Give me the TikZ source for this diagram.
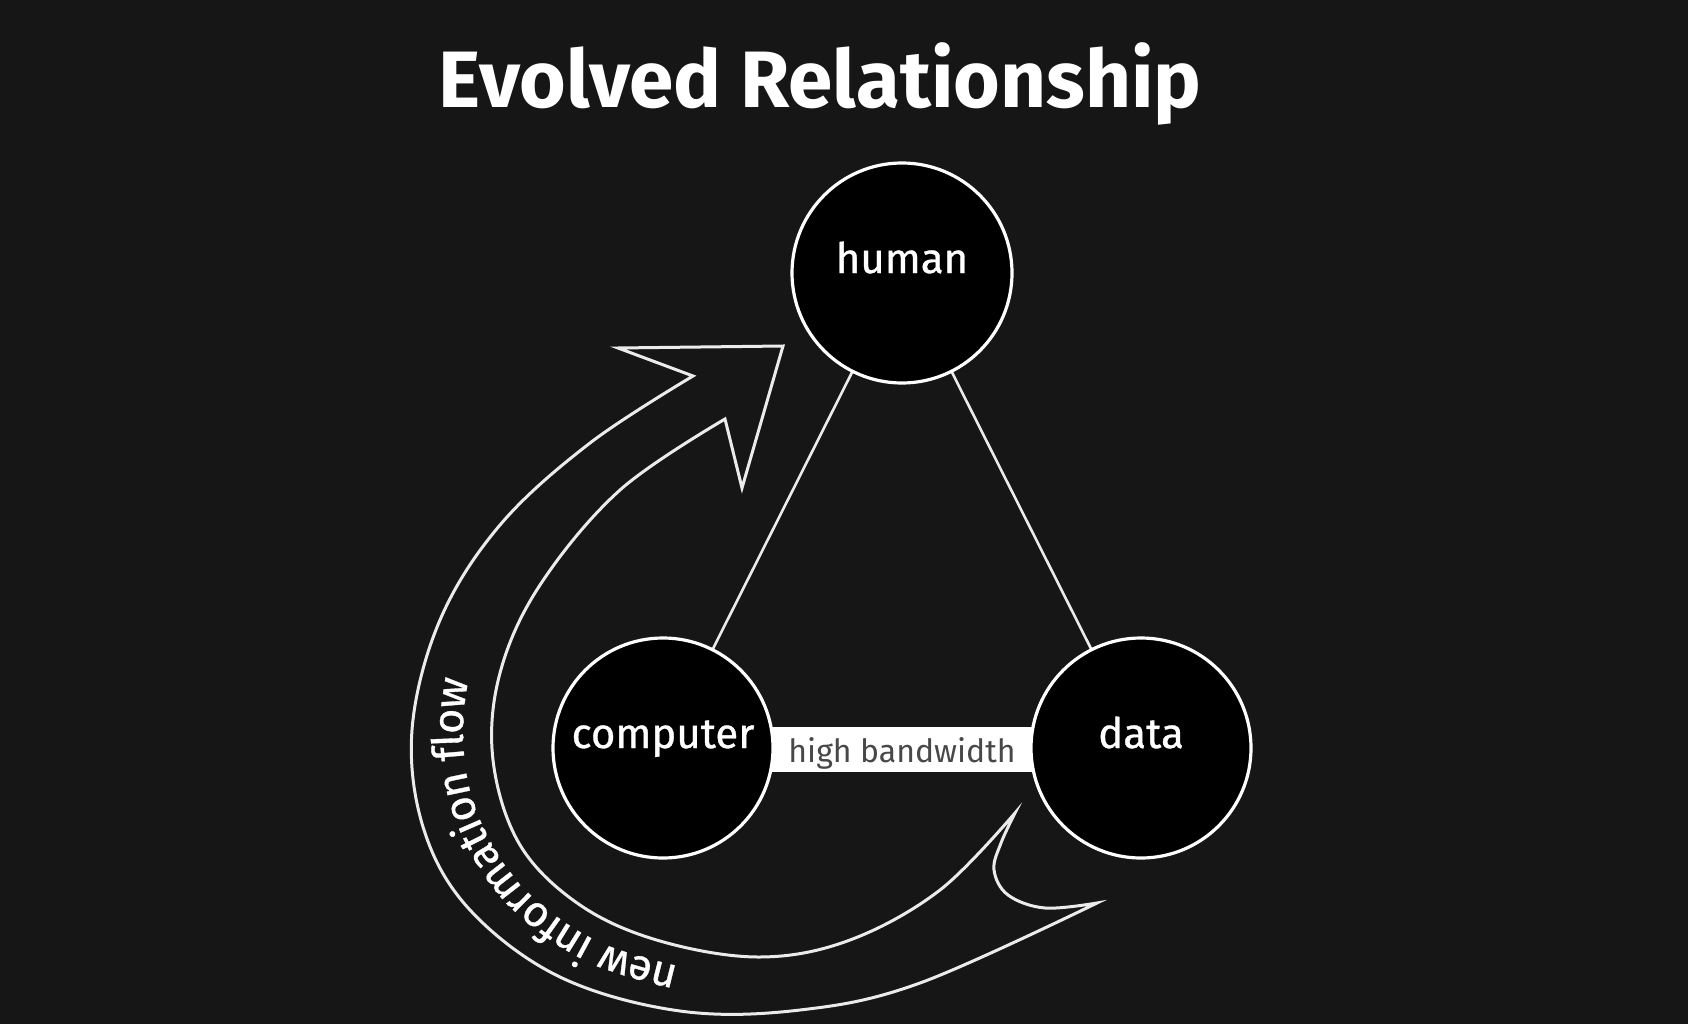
\documentclass[tikz,border=0pt]{standalone}
\usepackage{fontspec}
\setmainfont{Fira Sans}
\newfontfamily\labelfam[FakeBold=0.8]{Fira Sans}
\usetikzlibrary{calc,backgrounds,decorations.text}
\definecolor{bgcol}{RGB}{22,22,22}
\definecolor{linecol}{RGB}{235,235,235}
\definecolor{bandtext}{RGB}{72,72,72}
\newcommand\flowfont{\labelfam\fontsize{43}{45}\selectfont}
\begin{document}
\begin{tikzpicture}[x=1pt,y=-1pt,
  bubble/.style={circle, draw=white, line width=3.2pt, fill=black, minimum size=220pt, inner sep=0pt},
  bubbletext/.style={text=white, font=\labelfam\fontsize{42}{44}\selectfont, anchor=base, inner sep=0pt},
  link/.style={draw=linecol, line width=2.6pt},
  arrowline/.style={draw=linecol, line width=3pt, line join=miter, miter limit=20}]
\useasboundingbox (0,0) rectangle (1688,1024);
\fill[bgcol] (0,0) rectangle (1688,1024);
\node[text=white, font=\fontsize{80}{84}\selectfont\bfseries, anchor=base] (title) at (820,108) {Evolved Relationship};
% links
\coordinate (hc) at (902,273);
\coordinate (cc) at (663,748);
\coordinate (dc) at (1141,748);
\draw[link] (hc) -- (cc);
\draw[link] (hc) -- (dc);
\fill[white] ($(cc)+(0,-21)$) rectangle ($(dc)+(0,24)$);
\node[bubble] (human) at (hc) {};
\node[bubble] (computer) at (cc) {};
\node[bubble] (data) at (dc) {};
\node[bubbletext] (humanlabel) at (human.center) {human};
\node[bubbletext] (computerlabel) at (computer.center) {computer};
\node[bubbletext] (datalabel) at (data.center) {data};
\node[text=bandtext, font=\fontsize{32}{36}\selectfont, anchor=base, inner sep=0pt] (bandlabel) at (902,762) {high bandwidth};
% big arrow
\draw[arrowline] (1015,813)
  -- plot[smooth, tension=0.6] coordinates {(1015,813) (940,890) (850,940) (760,957) (660,941) (580,905) (520,845) (493,760) (500,673) (540,585) (620,490) (725,419)}
  -- (742,488) -- (783,346) -- (618,348) -- (693,376)
  -- plot[smooth, tension=0.6] coordinates {(693,376) (590,443) (500,525) (440,620) (412,730) (424,830) (470,910) (560,977) (680,1011) (800,1010) (920,983) (1097,903)}
  -- plot[smooth, tension=0.6] coordinates {(1097,903) (1045,908) (1008,895) (994,870) (1001,843) (1015,813)} -- cycle;
% text along arrow
\path[decorate, decoration={text along path, raise=-11pt, text color=white,
  text={|\flowfont|new information flow}}]
  plot[smooth, tension=0.6] coordinates {(676,977) (590,950) (515,895) (468,820) (452,740) (462,660) (492,595) (530,540)};
\end{tikzpicture}
\end{document}
